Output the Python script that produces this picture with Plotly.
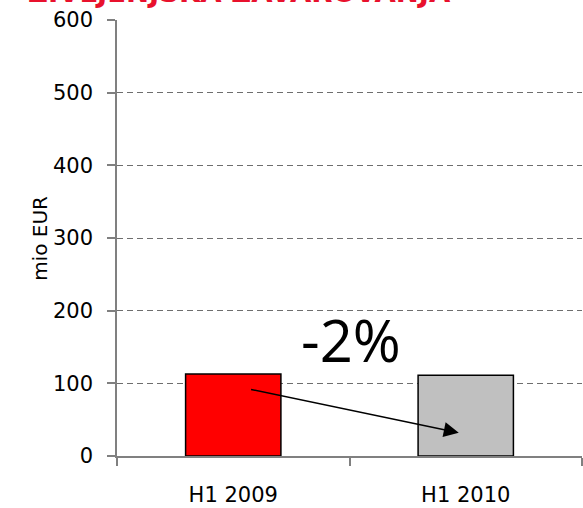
import plotly.graph_objects as go

categories = ["H1 2009", "H1 2010"]
values = [113, 111]
bar_colors = ["#FF0000", "#C0C0C0"]
y_ticks = [0, 100, 200, 300, 400, 500, 600]
title_text = "ŽIVLJENJSKA ZAVAROVANJA"
y_title = "mio EUR"
change_label = "-2%"

FONT = "DejaVu Sans"

fig = go.Figure()
fig.add_trace(go.Bar(
    x=categories, y=values,
    marker=dict(color=bar_colors, line=dict(color="black", width=1.5)),
    width=0.41,
))

# arrow from first bar to second bar
fig.add_annotation(
    x=0.97, y=32, ax=0.07, ay=92,
    xref="x", yref="y", axref="x", ayref="y",
    text="", showarrow=True, arrowhead=2, arrowsize=2, arrowwidth=1.5,
    arrowcolor="black",
)
fig.add_annotation(
    x=0.505, y=160, xref="x", yref="y", text=change_label, showarrow=False,
    font=dict(family="Open Sans", size=58, color="black"),
)
fig.add_annotation(
    x=-0.196, y=0.5, xref="paper", yref="paper", text=y_title, showarrow=False,
    textangle=-90, font=dict(family=FONT, size=20, color="black"),
)
fig.add_annotation(
    x=-0.196, y=1.0235, xref="paper", yref="paper", xanchor="left", yanchor="bottom",
    text="<b>" + title_text + "</b>", showarrow=False,
    font=dict(family=FONT, size=27.5, color="#E8112D"),
)

fig.update_layout(
    width=583, height=508,
    margin=dict(l=117, r=1, t=20, b=50),
    paper_bgcolor="white", plot_bgcolor="white",
    showlegend=False,
    font=dict(family=FONT, size=21, color="black"),
    xaxis=dict(
        type="category", range=[-0.5, 1.5], tickson="boundaries",
        showline=True, linecolor="#808080", linewidth=1.5,
        ticks="outside", ticklen=8, tickcolor="#808080", tickwidth=1.5,
        ticklabelstandoff=19, showgrid=False,
        tickfont=dict(family=FONT, size=21),
    ),
    yaxis=dict(
        range=[0, 600], tickvals=y_ticks,
        showline=True, linecolor="#808080", linewidth=1.5,
        ticks="outside", ticklen=8, tickcolor="#808080", tickwidth=1.5,
        showgrid=True, gridcolor="#6E6E6E", griddash="6px,4px", gridwidth=1,
        zeroline=False, ticklabelstandoff=10,
        tickfont=dict(family=FONT, size=21),
    ),
)

fig.write_html("out.html", config={"displayModeBar": False},
               post_script="document.body.style.margin='0';")
